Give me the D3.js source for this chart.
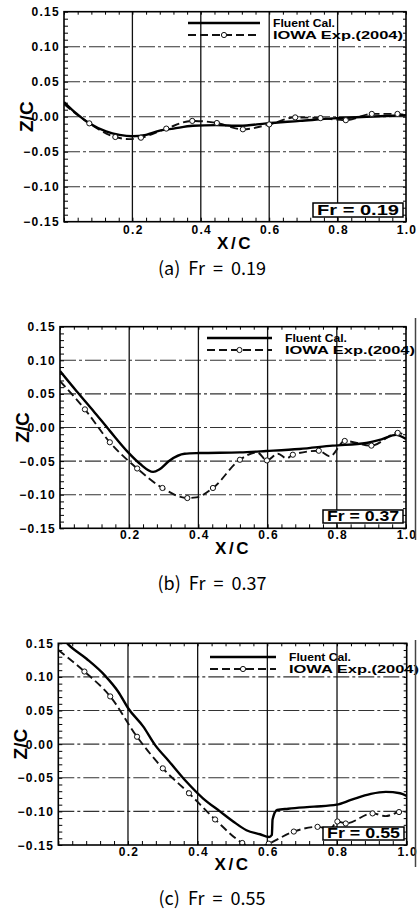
<!DOCTYPE html>
<html>
<head>
<meta charset="utf-8">
<script src="https://cdn.jsdelivr.net/npm/d3@7"></script>
<style>
  body { margin: 0; background: #fff; }
  svg { display: block; }
</style>
</head>
<body>
<svg id="chart" width="420" height="911"></svg>
<script>
// tick labels & series names
const xTicks = [0.2, 0.4, 0.6, 0.8, 1.0];
const yTicks = [-0.15, -0.10, -0.05, 0.00, 0.05, 0.10, 0.15];
const seriesNames = ["Fluent Cal.", "IOWA Exp.(2004)"];
const froude = [0.19, 0.37, 0.55];
const panelLetters = ["a", "b", "c"];

// (a) Fr = 0.19
const calA_x = [0, 0.035, 0.074, 0.123, 0.162, 0.2, 0.24, 0.28, 0.32, 0.377, 0.445, 0.514, 0.592, 0.69, 0.787, 0.885, 1.0];
const calA_z = [0.021, 0.005, -0.0095, -0.021, -0.026, -0.028, -0.026, -0.02, -0.017, -0.013, -0.012, -0.013, -0.0095, -0.006, -0.0024, 0, 0.002];
const expA_x = [0, 0.074, 0.15, 0.19, 0.225, 0.299, 0.375, 0.447, 0.523, 0.6, 0.676, 0.75, 0.824, 0.9, 0.975, 1.0];
const expA_z = [0.018, -0.0095, -0.029, -0.032, -0.030, -0.017, -0.006, -0.009, -0.018, -0.011, -0.001, -0.002, -0.005, 0.004, 0.004, 0.002];
const expA_m = [0, 1, 1, 0, 1, 1, 1, 1, 1, 1, 1, 1, 1, 1, 1, 0];

// (b) Fr = 0.37
const calB_x = [0, 0.048, 0.096, 0.144, 0.197, 0.231, 0.269, 0.288, 0.317, 0.36, 0.404, 0.52, 0.596, 0.692, 0.788, 0.885, 0.933, 0.971, 1.0];
const calB_z = [0.084, 0.054, 0.025, -0.005, -0.037, -0.054, -0.066, -0.062, -0.049, -0.039, -0.038, -0.037, -0.035, -0.032, -0.027, -0.023, -0.017, -0.011, -0.017];
const expB_x = [0, 0.072, 0.144, 0.223, 0.296, 0.368, 0.394, 0.442, 0.52, 0.57, 0.598, 0.63, 0.655, 0.673, 0.748, 0.78, 0.823, 0.9, 0.976, 1.0];
const expB_z = [0.069, 0.027, -0.022, -0.061, -0.09, -0.105, -0.104, -0.09, -0.048, -0.037, -0.049, -0.039, -0.046, -0.0405, -0.0346, -0.043, -0.020, -0.027, -0.008, -0.012];
const expB_m = [0, 1, 1, 1, 1, 1, 0, 1, 1, 0, 1, 0, 0, 1, 1, 0, 1, 1, 1, 0];

// (c) Fr = 0.55
const calC_x = [0, 0.029, 0.081, 0.134, 0.172, 0.201, 0.244, 0.278, 0.317, 0.368, 0.416, 0.464, 0.502, 0.54, 0.579, 0.605, 0.613, 0.615, 0.628, 0.66, 0.734, 0.799, 0.84, 0.897, 0.94, 0.981, 1.0];
const calC_z = [0.165, 0.148, 0.127, 0.102, 0.078, 0.053, 0.026, -0.0015, -0.025, -0.056, -0.081, -0.100, -0.115, -0.128, -0.134, -0.138, -0.135, -0.112, -0.098, -0.096, -0.093, -0.09, -0.083, -0.074, -0.071, -0.073, -0.077];
const expC_x = [0, 0.075, 0.149, 0.226, 0.30, 0.375, 0.45, 0.528, 0.565, 0.604, 0.676, 0.744, 0.78, 0.801, 0.825, 0.902, 0.94, 0.978, 1.0];
const expC_z = [0.14, 0.108, 0.071, 0.011, -0.036, -0.073, -0.112, -0.147, -0.156, -0.148, -0.13, -0.123, -0.126, -0.115, -0.118, -0.103, -0.107, -0.101, -0.1];
const expC_m = [0, 1, 1, 1, 1, 1, 1, 1, 0, 1, 1, 1, 0, 1, 1, 1, 0, 1, 0];

const svg = d3.select("#chart");
const tickFont = "'Liberation Sans', Arial, sans-serif";

// panel boxes (left, right, top, bottom) + text baselines
const panels = [
  { box: [64, 406, 11.7, 221.7], tickY: 234, xcY: 249, subY: 275, edge: false,
    cal: [calA_x, calA_z], exp: [expA_x, expA_z, expA_m], leg: [188, 260, 23], frBox: [313, 403, 203, 217] },
  { box: [60, 406, 326.7, 528.3], tickY: 539, xcY: 554, subY: 590, edge: [318, 540],
    cal: [calB_x, calB_z], exp: [expB_x, expB_z, expB_m], leg: [207, 272, 338], frBox: [323, 403, 510, 523] },
  { box: [58.3, 406.7, 643.3, 845], tickY: 856, xcY: 870, subY: 905, edge: [640, 867],
    cal: [calC_x, calC_z], exp: [expC_x, expC_z, expC_m], leg: [210, 276, 657], frBox: [323, 404, 827, 840] }
];

panels.forEach((p, i) => {
  const [l, r, t, b] = p.box;
  const x = d3.scaleLinear().domain([0, 1]).range([l, r]);
  const y = d3.scaleLinear().domain([-0.15, 0.15]).range([b, t]);
  const g = svg.append("g");

  // grid
  g.selectAll(".hgrid")
    .data(yTicks.filter(v => Math.abs(v) < 0.149))
    .enter().append("line")
    .attr("x1", l).attr("x2", r)
    .attr("y1", d => y(d)).attr("y2", d => y(d))
    .attr("stroke", "#333").attr("stroke-width", 1.1)
    .attr("stroke-dasharray", "16,3,3,3");
  g.selectAll(".vgrid")
    .data(xTicks.filter(v => v < 0.99))
    .enter().append("line")
    .attr("x1", d => x(d)).attr("x2", d => x(d))
    .attr("y1", t).attr("y2", b)
    .attr("stroke", "#111").attr("stroke-width", 1.3);

  // axes with inward ticks
  const minorY = d3.range(-15, 16).map(k => k / 100);
  const minorX = d3.range(0, 26).map(k => k * 0.04);
  g.append("g").attr("transform", `translate(${l},0)`)
    .call(d3.axisLeft(y).tickValues(minorY).tickSize(-4).tickFormat(""))
    .call(s => s.select(".domain").remove());
  g.append("g").attr("transform", `translate(0,${b})`)
    .call(d3.axisBottom(x).tickValues(minorX).tickSize(-4).tickFormat(""))
    .call(s => s.select(".domain").remove());
  g.append("g").attr("transform", `translate(${r},0)`)
    .call(d3.axisRight(y).tickValues(minorY).tickSize(-3).tickFormat(""))
    .call(s => s.select(".domain").remove());
  g.append("g").attr("transform", `translate(0,${t})`)
    .call(d3.axisTop(x).tickValues(minorX).tickSize(-3).tickFormat(""))
    .call(s => s.select(".domain").remove());

  // tick labels
  g.selectAll(".ylab").data(yTicks).enter().append("text")
    .attr("x", l - 4).attr("y", d => y(d) + 4.5)
    .attr("text-anchor", "end")
    .style("font-family", tickFont).style("font-weight", "bold")
    .style("font-size", "12px").style("letter-spacing", "1.3px")
    .text(d => d3.format(".2f")(d));
  g.selectAll(".xlab").data(xTicks).enter().append("text")
    .attr("x", d => x(d) + 1).attr("y", p.tickY)
    .attr("text-anchor", "middle")
    .style("font-family", tickFont).style("font-weight", "bold")
    .style("font-size", "12px").style("letter-spacing", "1.3px")
    .text(d => d3.format(".1f")(d));

  // axis titles
  g.append("text")
    .attr("transform", `translate(${l - 31},${y(0)}) rotate(-90)`)
    .attr("text-anchor", "middle")
    .style("font-family", tickFont).style("font-weight", "bold").style("font-size", "19px")
    .text("Z/C");
  g.append("text")
    .attr("x", x(0.5)).attr("y", p.xcY)
    .attr("text-anchor", "middle")
    .style("font-family", tickFont).style("font-weight", "bold").style("font-size", "17px")
    .style("letter-spacing", "2.5px")
    .text("X/C");

  // curves
  const clipId = "clip" + i;
  g.append("clipPath").attr("id", clipId).append("rect")
    .attr("x", l).attr("y", t).attr("width", r - l).attr("height", b - t);
  const line = d3.line().x(d => x(d[0])).y(d => y(d[1])).curve(d3.curveMonotoneX);
  const calPts = p.cal[0].map((v, k) => [v, p.cal[1][k]]);
  const expPts = p.exp[0].map((v, k) => [v, p.exp[1][k], p.exp[2][k]]);
  const plot = g.append("g").attr("clip-path", `url(#${clipId})`);
  plot.append("path").datum(expPts)
    .attr("d", line).attr("fill", "none")
    .attr("stroke", "#111").attr("stroke-width", 1.9)
    .attr("stroke-dasharray", "8,4");
  plot.append("path").datum(calPts)
    .attr("d", line).attr("fill", "none")
    .attr("stroke", "#000").attr("stroke-width", 2.4);
  plot.selectAll(".mk").data(expPts.filter(d => d[2]))
    .enter().append("circle")
    .attr("cx", d => x(d[0])).attr("cy", d => y(d[1])).attr("r", 2.6)
    .attr("fill", "#fff").attr("stroke", "#111").attr("stroke-width", 1);

  // frame
  g.append("rect").attr("x", l).attr("y", t).attr("width", r - l).attr("height", b - t)
    .attr("fill", "none").attr("stroke", "#000").attr("stroke-width", 1.6);

  // legend
  const [lx0, lx1, ly] = p.leg;
  g.append("line").attr("x1", lx0).attr("x2", lx1).attr("y1", ly).attr("y2", ly)
    .attr("stroke", "#000").attr("stroke-width", 2.6);
  g.append("line").attr("x1", lx0).attr("x2", lx1).attr("y1", ly + 12).attr("y2", ly + 12)
    .attr("stroke", "#111").attr("stroke-width", 2).attr("stroke-dasharray", "8,4");
  g.append("circle").attr("cx", (lx0 + lx1) / 2).attr("cy", ly + 12).attr("r", 2.6)
    .attr("fill", "#fff").attr("stroke", "#111").attr("stroke-width", 1);
  seriesNames.forEach((name, k) => {
    g.append("text")
      .attr("x", lx1 + 13).attr("y", ly + 4 + k * 12)
      .attr("textLength", k ? 130 : 62).attr("lengthAdjust", "spacingAndGlyphs")
      .style("font-family", tickFont).style("font-weight", "bold").style("font-size", "11px")
      .text(name);
  });

  // Fr box
  const [fx0, fx1, fy0, fy1] = p.frBox;
  g.append("rect").attr("x", fx0).attr("y", fy0).attr("width", fx1 - fx0).attr("height", fy1 - fy0)
    .attr("fill", "#fff").attr("stroke", "#000").attr("stroke-width", 1.5);
  g.append("text")
    .attr("x", fx0 + 4).attr("y", fy1 - 2)
    .attr("textLength", fx1 - fx0 - 8).attr("lengthAdjust", "spacingAndGlyphs")
    .style("font-family", tickFont).style("font-weight", "bold").style("font-size", "14px")
    .text(`Fr = ${froude[i]}`);

  // subtitle
  g.append("text")
    .attr("x", 212).attr("y", p.subY)
    .attr("text-anchor", "middle")
    .attr("xml:space", "preserve")
    .style("font-family", "'Noto Sans CJK KR', 'Noto Sans', sans-serif")
    .style("font-size", "18px")
    .text(`(${panelLetters[i]})  Fr  =  ${froude[i]}`);

  // scanned page edge on the right
  if (p.edge) {
    g.append("line").attr("x1", 415.5).attr("x2", 415.5)
      .attr("y1", p.edge[0]).attr("y2", p.edge[1])
      .attr("stroke", "#444").attr("stroke-width", 1.5);
  }
});
</script>
</body>
</html>
